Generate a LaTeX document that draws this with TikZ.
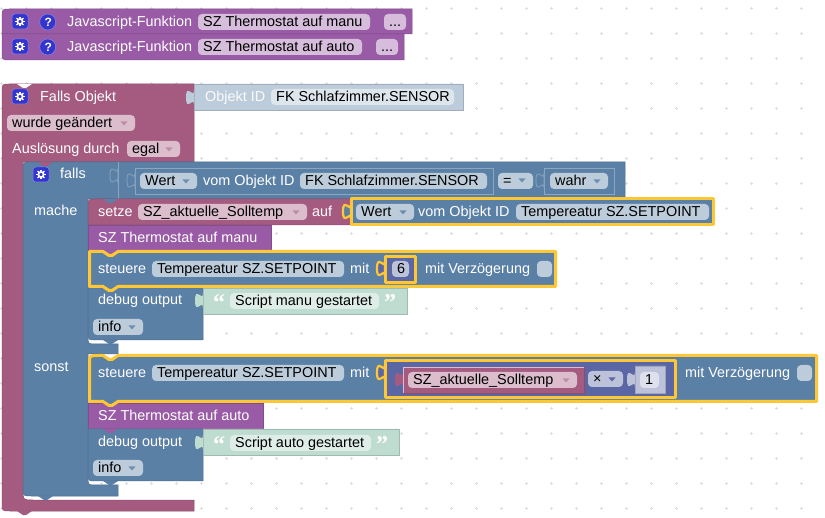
\documentclass[tikz,border=0pt]{standalone}
\usepackage{fontspec}
\setmainfont{Liberation Sans}
\newfontfamily\quotefont{Liberation Serif}

\definecolor{procPurple}{HTML}{995BA5}
\definecolor{procField}{HTML}{D6BDDB}
\definecolor{varRose}{HTML}{A55B80}
\definecolor{varField}{HTML}{DBBDCC}
\definecolor{ctrlBlue}{HTML}{5B80A5}
\definecolor{ctrlField}{HTML}{BDCCDB}
\definecolor{ctrlLine}{HTML}{8CA6C0}
\definecolor{idShadow}{HTML}{BDCCDB}
\definecolor{idField}{HTML}{DEE6ED}
\definecolor{textShadow}{HTML}{BEDCCF}
\definecolor{textField}{HTML}{DEEDE7}
\definecolor{mathBlue}{HTML}{5B67A5}
\definecolor{mathField}{HTML}{BDC2DB}
\definecolor{mathInner}{HTML}{DEE0ED}
\definecolor{iconBlue}{HTML}{3434CE}
\definecolor{selectYellow}{HTML}{FFC733}
\definecolor{gridGrey}{HTML}{DEDEDE}

\tikzset{
    labelText/.style={anchor=base west,inner sep=0pt,text=white,font=\fontsize{14.4}{16}\selectfont},
    fieldText/.style={labelText,text=black},
    quoteText/.style={labelText,font=\quotefont\bfseries\fontsize{24}{24}\selectfont},
    fieldBox/.style={rounded corners=4pt},
    blockFill/.style={fill=#1,draw=#1!85!black,line width=0.5pt},
    selectLine/.style={draw=selectYellow,line width=3pt,line join=round},
}

% x1 y1 x2 y2 top-left-radius bottom-left-radius colour
\newcommand{\blockBody}[7]{
    \path[blockFill=#7] (#1,#2+#5) .. controls (#1,#2) .. (#1+#5,#2) -- (#3,#2) -- (#3,#4) -- (#1+#6,#4) .. controls (#1,#4) .. (#1,#4-#6) -- cycle;
}
% x y style
\newcommand{\blockTab}[3]{
    \path[#3] (#1,#2) .. controls (#1,#2+10) and (#1-8,#2-8) .. (#1-8,#2+7.5) .. controls (#1-8,#2+23) and (#1,#2+5) .. (#1,#2+15) -- cycle;
}
% x y colour
\newcommand{\blockNotch}[3]{
    \fill[#3] (#1+15,#2) -- (#1+21,#2+4) -- (#1+24,#2+4) -- (#1+30,#2) -- cycle;
}
% name x1 x2 y1 colour text
\newcommand{\blockField}[6]{
    \fill[#5,fieldBox] (#2,#4) rectangle (#3,#4+16);
    \node[fieldText] (#1) at (#2+5,#4+13) {#6};
}
% x y colour
\newcommand{\dropArrow}[3]{
    \fill[#3] (#1-3.5,#2-1.5) -- (#1+3.5,#2-1.5) -- (#1,#2+2.5) -- cycle;
}
% x y
\newcommand{\blockGear}[2]{
    \path[fill=iconBlue,draw=iconBlue!60!white,line width=0.5pt,rounded corners=3pt] (#1-8,#2-8) rectangle (#1+8,#2+7);
    \draw[white,line width=1.7pt] (#1,#2-0.5) circle (2.6pt);
    \foreach \angle in {0,45,...,315} {
        \draw[white,line width=1.3pt,shift={(#1,#2-0.5)}] (\angle:3pt) -- (\angle:4.8pt);
    }
}
% x1 y1 x2 y2 top-left-radius
\newcommand{\blockSelect}[5]{
    \path[fill=ctrlBlue,selectLine] (#1+1.5,#2+1.5+#5) .. controls (#1+1.5,#2+1.5) .. (#1+1.5+#5,#2+1.5) -- (#1+15,#2+1.5) -- (#1+21,#2+5.5) -- (#1+24,#2+5.5) -- (#1+30,#2+1.5) -- (#3-1.5,#2+1.5) -- (#3-1.5,#4-1.5) -- (#1+30,#4-1.5) -- (#1+24,#4+2.5) -- (#1+21,#4+2.5) -- (#1+15,#4-1.5) -- (#1+1.5,#4-1.5) -- cycle;
}

\begin{document}
\begin{tikzpicture}[x=1pt,y=-1pt]
        \useasboundingbox (0,0) rectangle (825,518);
        \fill[white] (0,0) rectangle (825,518);

        % Workspace grid
        \foreach \col in {0,...,32} {
            \foreach \row in {0,...,20} {
                \draw[gridGrey,line width=0.8pt,shift={(1.7+25*\col,8.3+25*\row)}] (-1.7,0) -- (1.7,0) (0,-1.7) -- (0,1.7);
            }
        }

        % Javascript functions
        \blockBody{2}{9}{412}{34}{8}{0}{procPurple}
        \blockBody{2}{34}{404}{60}{0}{8}{procPurple}
        \foreach \yPos/\fieldEnd/\dotsStart/\fieldName/\labelName/\dotsName/\title in {22/370/384/fieldManu/funcManu/dotsManu/SZ Thermostat auf manu,47/362/376/fieldAuto/funcAuto/dotsAuto/SZ Thermostat auf auto} {
            \blockGear{20}{\yPos}
            \path[fill=iconBlue,draw=iconBlue!60!white,line width=0.5pt] (47.7,\yPos) circle (8pt);
            \node[labelText,font=\fontsize{12}{14}\bfseries] at (44.4,\yPos+4.5) {?};
            \node[labelText] (\labelName) at (67,\yPos+5) {Javascript-Funktion};
            \blockField{\fieldName}{198}{\fieldEnd}{\yPos-8}{procField}{\title}
            \blockField{\dotsName}{\dotsStart}{\dotsStart+22}{\yPos-8}{procField}{...}
        }

        % Trigger block
        \path[blockFill=varRose] (2,92) .. controls (2,84) .. (10,84) -- (194,84) -- (194,162) -- (23,162) -- (23,490) .. controls (23,500) .. (33,500) -- (194,500) -- (194,511) -- (10,511) .. controls (2,511) .. (2,503) -- cycle;
        \blockNotch{2}{84}{white}
        \blockNotch{2}{511}{varRose}
        \blockBody{194}{84}{463}{110}{0}{0}{idShadow}
        \blockTab{194}{90}{fill=idShadow}
        \blockGear{20}{97}
        \node[labelText] (trigger) at (40,102) {Falls Objekt};
        \node[labelText,text=white!92!idShadow] (triggerId) at (205,102) {Objekt ID};
        \blockField{triggerSensor}{271}{454}{89}{idField}{FK Schlafzimmer.SENSOR}
        \blockField{triggerMode}{7}{135}{115}{varField}{wurde geändert}
        \dropArrow{124}{123}{varRose!50!varField}
        \node[labelText] (triggerBy) at (12,154) {Auslösung durch};
        \blockField{triggerEgal}{127}{180}{141}{varField}{egal}
        \dropArrow{169}{149}{varRose!50!varField}

        % If block
        \path[blockFill=ctrlBlue] (23,170) .. controls (23,162) .. (31,162) -- (625,162) -- (625,199) -- (88,199) -- (88,336) .. controls (88,344) .. (96,344) -- (118,344) -- (118,354) -- (88,354) -- (88,477) .. controls (88,485) .. (96,485) -- (118,485) -- (118,496) -- (31,496) .. controls (23,496) .. (23,488) -- cycle;
        \blockNotch{23}{162}{varRose}
        \blockNotch{23}{496}{ctrlBlue}
        \blockGear{41}{175}
        \node[labelText] (ifLabel) at (60,179) {falls};
        \node[labelText] (thenLabel) at (34,216) {mache};
        \node[labelText] (elseLabel) at (34,372) {sonst};
        \draw[ctrlLine,line width=0.7pt] (118,162) -- (118,199);
        \blockTab{118}{168}{fill=ctrlBlue,draw=ctrlLine,line width=0.7pt}

        % Condition
        \draw[ctrlLine,fill=ctrlBlue,line width=0.7pt] (135,168) rectangle (493,194);
        \blockTab{135}{173}{fill=ctrlBlue,draw=ctrlLine,line width=0.7pt}
        \blockField{condWert}{140}{197}{173}{ctrlField}{Wert}
        \dropArrow{186}{181}{ctrlBlue!80!ctrlField}
        \node[labelText] (condVom) at (203,186) {vom Objekt ID};
        \blockField{condSensor}{300}{487}{173}{ctrlField}{FK Schlafzimmer.SENSOR}
        \blockField{condEq}{498}{533}{173}{ctrlField}{=}
        \dropArrow{522}{180}{ctrlBlue!80!ctrlField}
        \draw[ctrlLine,fill=ctrlBlue,line width=0.7pt] (544,168) rectangle (614,194);
        \blockTab{544}{173}{fill=ctrlBlue,draw=ctrlLine,line width=0.7pt}
        \blockField{condTrue}{550}{608}{173}{ctrlField}{wahr}
        \dropArrow{597}{181}{ctrlBlue!80!ctrlField}

        % Set variable
        \blockBody{88}{199}{352}{225}{8}{0}{varRose}
        \blockNotch{88}{199}{ctrlBlue}
        \node[labelText] (setLabel) at (98,217) {setze};
        \blockField{setVar}{138}{307}{204}{varField}{SZ\_aktuelle\_Solltemp}
        \dropArrow{296}{212}{varRose!50!varField}
        \node[labelText] (setTo) at (312,217) {auf};
        \blockTab{351}{204}{fill=ctrlBlue,selectLine,line width=2.2pt}
        \path[fill=ctrlBlue,selectLine] (351.5,198.5) rectangle (713.5,224.5);
        \blockField{setWert}{356}{414}{204}{ctrlField}{Wert}
        \dropArrow{403}{212}{ctrlBlue!80!ctrlField}
        \node[labelText] (setVom) at (418,217) {vom Objekt ID};
        \blockField{setPoint}{516}{709}{204}{ctrlField}{Tempereatur SZ.SETPOINT}

        % Then branch
        \blockBody{88}{225}{271}{250}{0}{0}{procPurple}
        \blockNotch{88}{250}{procPurple}
        \node[labelText] (callManu) at (98,243) {SZ Thermostat auf manu};
        \blockBody{88}{288}{203}{340}{0}{8}{ctrlBlue}
        \blockNotch{88}{340}{ctrlBlue}
        \blockSelect{88}{250}{557}{288}{0}
        \node[labelText] (ctrlManu) at (98,274) {steuere};
        \blockField{pointManu}{152}{344}{261}{ctrlField}{Tempereatur SZ.SETPOINT}
        \node[labelText] (withManu) at (350,274) {mit};
        \blockTab{385}{261}{fill=mathBlue,selectLine,line width=2.2pt}
        \path[fill=mathBlue,selectLine] (385.5,256.5) rectangle (415.5,282.5);
        \blockField{valueManu}{392}{409}{261}{mathField}{6}
        \node[labelText] (delayManu) at (425,274) {mit Verzögerung};
        \fill[ctrlField,fieldBox] (537,261) rectangle (552,277);

        \node[labelText] (debugManu) at (98,305) {debug output};
        \blockBody{203}{288}{407}{314}{0}{0}{textShadow}
        \blockTab{203}{293}{fill=textShadow}
        \node[quoteText] (openManu) at (213,311) {“};
        \blockField{scriptManu}{230}{379}{293}{textField}{Script manu gestartet}
        \node[quoteText] (closeManu) at (384,311) {”};
        \blockField{levelManu}{93}{143}{319}{ctrlField}{info}
        \dropArrow{132}{327}{ctrlBlue!80!ctrlField}

        % Else branch
        \blockBody{88}{403}{263}{429}{0}{0}{procPurple}
        \node[labelText] (callAuto) at (98,421) {SZ Thermostat auf auto};
        \blockSelect{88}{354}{818}{403}{8}
        \node[labelText] (ctrlAuto) at (98,378) {steuere};
        \blockField{pointAuto}{152}{344}{365}{ctrlField}{Tempereatur SZ.SETPOINT}
        \node[labelText] (withAuto) at (350,378) {mit};
        \blockTab{385}{365}{fill=mathBlue,selectLine,line width=2.2pt}
        \path[fill=mathBlue,selectLine] (385.5,360.5) rectangle (675,397.5);
        \blockBody{403}{367}{584}{393}{0}{0}{varRose}
        \blockTab{403}{372}{fill=varRose}
        \draw[varField,line width=0.6pt] (403,393) -- (403,367) -- (584,367);
        \blockField{multVar}{408}{577}{372}{varField}{SZ\_aktuelle\_Solltemp}
        \dropArrow{566}{380}{varRose!50!varField}
        \blockField{multOp}{588}{623}{371}{mathField}{×}
        \dropArrow{612}{379}{mathBlue}
        \blockBody{635}{366}{665}{393}{0}{0}{mathField}
        \blockTab{635}{372}{fill=mathField}
        \blockField{multValue}{640}{659}{372}{mathInner}{1}
        \node[labelText] (delayAuto) at (685,378) {mit Verzögerung};
        \fill[ctrlField,fieldBox] (797,365) rectangle (812,381);

        \blockBody{88}{429}{203}{481}{0}{8}{ctrlBlue}
        \blockNotch{88}{429}{procPurple}
        \blockNotch{88}{481}{ctrlBlue}
        \node[labelText] (debugAuto) at (98,447) {debug output};
        \blockBody{203}{429}{399}{455}{0}{0}{textShadow}
        \blockTab{203}{435}{fill=textShadow}
        \node[quoteText] (openAuto) at (213,453) {“};
        \blockField{scriptAuto}{230}{371}{435}{textField}{Script auto gestartet}
        \node[quoteText] (closeAuto) at (376,453) {”};
        \blockField{levelAuto}{93}{143}{460}{ctrlField}{info}
        \dropArrow{132}{468}{ctrlBlue!80!ctrlField}
    \end{tikzpicture}
\end{document}
